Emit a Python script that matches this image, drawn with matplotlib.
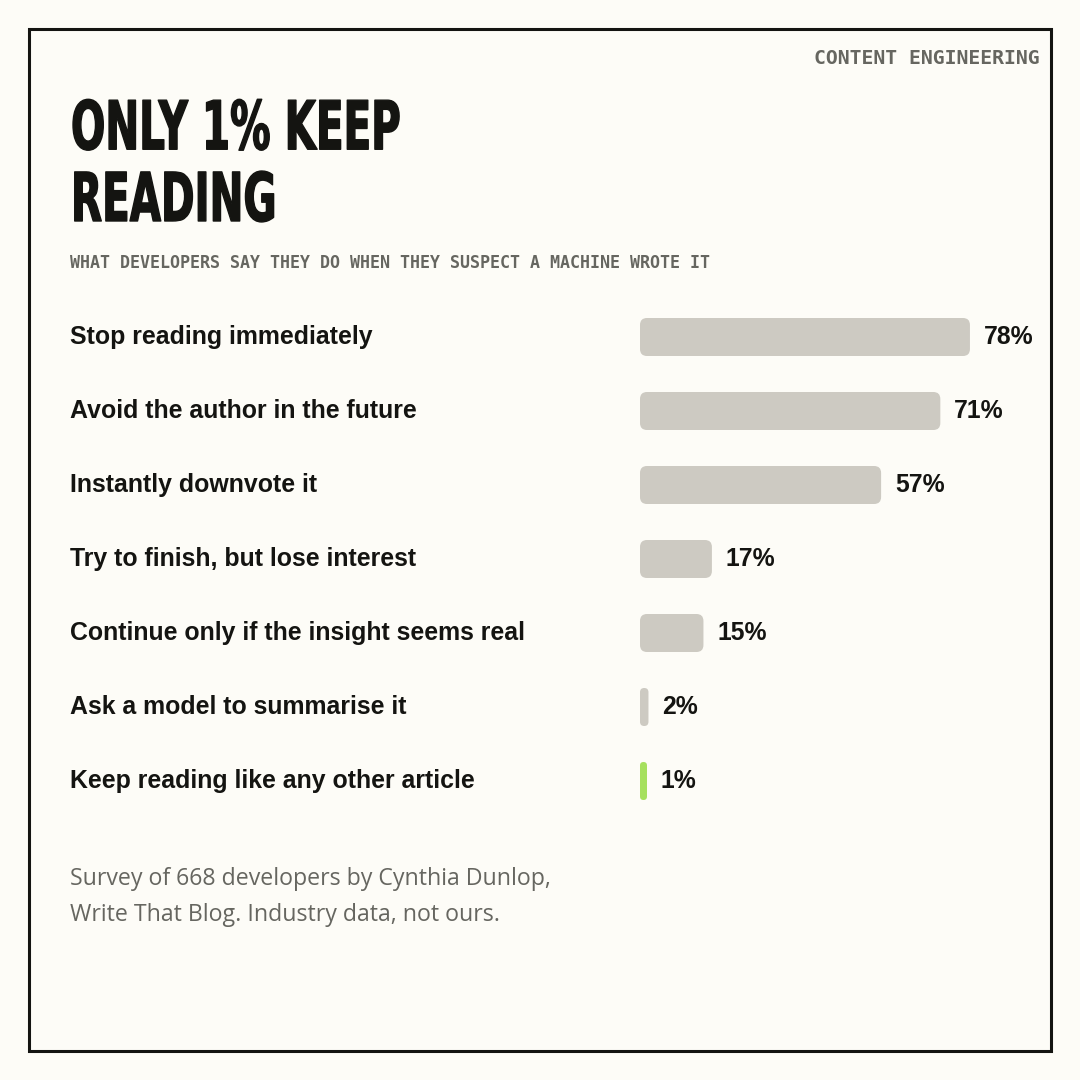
import matplotlib.pyplot as plt
from matplotlib.patches import FancyBboxPatch, Rectangle
from matplotlib.patheffects import AbstractPathEffect
from matplotlib.transforms import Affine2D, blended_transform_factory

# data
answers = [
    "Stop reading immediately",
    "Avoid the author in the future",
    "Instantly downvote it",
    "Try to finish, but lose interest",
    "Continue only if the insight seems real",
    "Ask a model to summarise it",
    "Keep reading like any other article",
]
shares = [78, 71, 57, 17, 15, 2, 1]
highlight = "Keep reading like any other article"

title = "ONLY 1% KEEP\nREADING"
subtitle = "WHAT DEVELOPERS SAY THEY DO WHEN THEY SUSPECT A MACHINE WROTE IT"
kicker = "CONTENT ENGINEERING"
note = "Survey of 668 developers by Cynthia Dunlop,\nWrite That Blog. Industry data, not ours."

BG = "#fdfcf7"
INK = "#141411"
GREY = "#666660"
BAR = "#cdcac2"
GREEN = "#a6e05e"

W = H = 1080
fig = plt.figure(figsize=(10.8, 10.8), dpi=100)
fig.patch.set_facecolor(BG)

def fx(px):
    return px / W

def fy(px):
    return 1 - px / H


class Squeeze(AbstractPathEffect):
    # no condensed display face installed, so narrow the glyphs around the left edge
    # and stroke them a little to keep the vertical stems from going thin
    def __init__(self, x0, sx, lw):
        super().__init__()
        self.x0 = x0
        self.sx = sx
        self.lw = lw

    def draw_path(self, renderer, gc, tpath, affine, rgbFace=None):
        sq = Affine2D().translate(-self.x0, 0).scale(self.sx, 1).translate(self.x0, 0)
        gc0 = renderer.new_gc()
        gc0.copy_properties(gc)
        gc0.set_linewidth(self.lw)
        gc0.set_foreground(rgbFace)
        renderer.draw_path(gc0, tpath, affine + sq, rgbFace)
        gc0.restore()


# frame
fig.patches.append(Rectangle((fx(29), fy(1051)), fx(1022), 1022 / H, transform=fig.transFigure,
                             fill=False, edgecolor=INK, linewidth=2.2))

fig.text(fx(1040), fy(58), kicker, ha="right", va="center", family="DejaVu Sans Mono",
         fontsize=14.2, fontweight="bold", color=GREY)

fig.text(fx(71), fy(221), title, ha="left", va="baseline", linespacing=1.11,
         family="DejaVu Sans", fontweight="bold", fontsize=48.5, color=INK,
         path_effects=[Squeeze(71, 0.6, 1.0)])

fig.text(fx(70), fy(263), subtitle, ha="left", va="center", family="DejaVu Sans Mono",
         fontsize=11.95, fontweight="bold", color=GREY)

fig.text(fx(70), fy(897), note, ha="left", va="center", family="Open Sans",
         fontsize=16.7, color=GREY, linespacing=1.66)

# bar panel: 0..100 % over 423 px, rows 74 px apart
ax = fig.add_axes([fx(640), fy(818), 423 / W, 518 / H])
ax.set_xlim(0, 100)
ax.set_ylim(len(answers) - 0.5, -0.5)
ax.axis("off")
ax.patch.set_visible(False)

px_x = 100 / 423.0   # data units per pixel, x
px_y = 1 / 74.0      # data units per pixel, y
bar_h = 38 * px_y

lab_tr = blended_transform_factory(fig.transFigure, ax.transData)

for i, (name, v) in enumerate(zip(answers, shares)):
    w = max(v, 7 * px_x)
    r = min(7 * px_x, w / 2)
    col = GREEN if name == highlight else BAR
    box = FancyBboxPatch((0, i - bar_h / 2), w, bar_h,
                         boxstyle="round,pad=0,rounding_size=%f" % r,
                         mutation_aspect=px_y / px_x, facecolor=col, edgecolor="none")
    ax.add_patch(box)
    ax.annotate("%d%%" % v, (w, i), xytext=(14 * 0.72, 0), textcoords="offset points",
                ha="left", va="center", family="Liberation Sans", fontweight="bold",
                fontsize=17.8, color=INK, annotation_clip=False)
    ax.text(fx(70), i, name, transform=lab_tr, ha="left", va="center",
            family="Liberation Sans", fontweight="bold", fontsize=17.9, color=INK)

fig.savefig("out.png", dpi=100, facecolor=BG)
